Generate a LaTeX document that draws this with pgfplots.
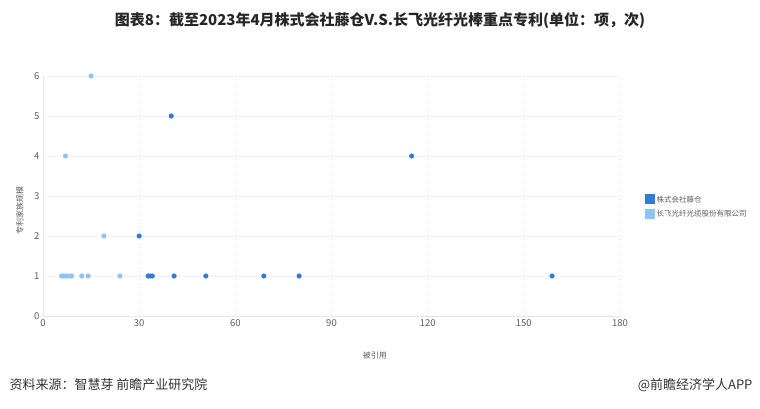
\documentclass[border=0pt]{standalone}
\usepackage{fontspec}
\setmainfont{Noto Sans CJK SC}
\usepackage{pgfplots}
\pgfplotsset{compat=1.18}
\definecolor{fjdark}{HTML}{2F7DD8}
\definecolor{cflight}{HTML}{8CC5F1}
\definecolor{gridgray}{HTML}{E6E6E6}
\definecolor{ticktext}{HTML}{5E5E5E}

\begin{document}
\begin{tikzpicture}[x=1pt,y=1pt]
\path[use as bounding box, fill=white] (0,0) rectangle (760,408);
\node[font=\bfseries\fontsize{15}{18}\selectfont, text=black!85] at (380,388)
  {图表8：截至2023年4月株式会社藤仓V.S.长飞光纤光棒重点专利(单位：项，次)};
\begin{axis}[
    at={(43pt,92pt)}, anchor=south west,
    scale only axis, width=577pt, height=240pt,
    xmin=0, xmax=180, ymin=0, ymax=6,
    xtick={0,30,...,180}, ytick={0,1,...,6},
    major tick length=0pt,
    grid=major,
    grid style={gridgray, dash pattern=on 1.5pt off 2.5pt},
    axis lines*=left,
    axis line style={draw=gridgray, -},
    ticklabel style={font=\fontsize{9.5}{11}\selectfont, text=ticktext},
    /pgf/number format/assume math mode=true,
    xlabel={被引用}, ylabel={专利家族规模},
    every axis x label/.style={at={(axis description cs:0.575,-0.165)}, anchor=center,
        font=\fontsize{8}{9}\selectfont, text=ticktext},
    every axis y label/.style={at={(axis description cs:-0.04,0.44)}, rotate=90, anchor=center,
        font=\fontsize{8}{9}\selectfont, text=ticktext},
    clip=false,
    legend style={at={(1.038,0.454)}, anchor=west, draw=none, fill=none,
        font=\fontsize{7.5}{9}\selectfont, text=ticktext, row sep=3pt},
    legend cell align=left,
    legend image code/.code={\fill[#1] (0pt,-4pt) rectangle (9pt,5pt);},
]
\addplot[only marks, mark=*, mark size=2.3pt, color=fjdark, fill=fjdark] coordinates {
(40,5) (115,4) (30,2) (32.8,1) (33.4,1) (34.1,1) (40.9,1) (50.8,1) (68.9,1) (79.9,1) (158.8,1)
};
\addlegendentry{株式会社藤仓}
\addplot[only marks, mark=*, mark size=2.3pt, color=cflight, fill=cflight] coordinates {
(15,6) (7,4) (19,2) (5.8,1) (6.5,1) (7.3,1) (8.2,1) (8.9,1) (12.1,1) (14.1,1) (24,1)
};
\addlegendentry{长飞光纤光缆股份有限公司}
\end{axis}
\node[anchor=west, font=\fontsize{13}{15}\selectfont, text=black!80] at (6,23) {资料来源：智慧芽 前瞻产业研究院};
\node[anchor=east, font=\fontsize{13}{15}\selectfont, text=black!80] at (756,23) {@前瞻经济学人APP};
\end{tikzpicture}
\end{document}
